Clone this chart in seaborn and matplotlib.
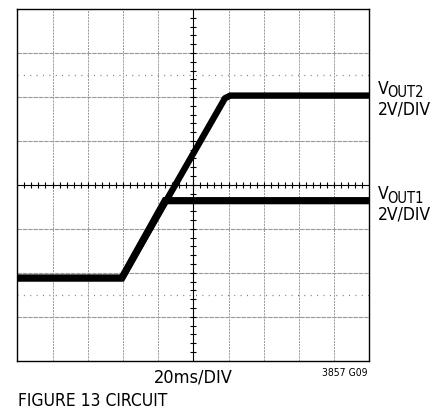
import numpy as np
import pandas as pd
import matplotlib
matplotlib.use("Agg")
import matplotlib.pyplot as plt
import seaborn as sns

# ---- data (in scope divisions: x 0..10, y 0..8) ----
vout1_t = [0.0, 2.97, 4.20, 10.0]
vout1_v = [1.88, 1.88, 3.64, 3.64]
vout2_t = [0.0, 2.97, 5.90, 6.05, 10.0]
vout2_v = [1.88, 1.88, 5.97, 6.03, 6.03]

x_label = "20ms/DIV"
fig_label = "FIGURE 13 CIRCUIT"
code_label = "3857 G09"
trace_labels = [("V", "OUT2", "2V/DIV"), ("V", "OUT1", "2V/DIV")]

sns.set_style("white")
FONT = ["DejaVu Sans"]
plt.rcParams["font.family"] = FONT

W, H = 445, 410
fig = plt.figure(figsize=(W / 100, H / 100), dpi=100)
L, R, T, B = 17.3, 369.3, 10.0, 361.7
ax = fig.add_axes([L / W, 1 - B / H, (R - L) / W, (B - T) / H])
ax.set_xlim(0, 10)
ax.set_ylim(0, 8)

# graticule
for xv in range(1, 10):
    if xv == 5:
        continue
    ax.axvline(xv, color="#8a8a8a", lw=0.6, ls=(0, (2.5, 1.2)), zorder=1)
for yv in range(1, 8):
    if yv == 4:
        continue
    ax.axhline(yv, color="#999999", lw=0.8, ls=(0, (4, 0.8)), zorder=1)
for yv in (1.5, 6.5):
    ax.axhline(yv, color="#7a7a7a", lw=0.9, ls=(0, (0.8, 4.3)), zorder=1)
ax.axvline(5, color="black", lw=0.8, zorder=2)
ax.axhline(4, color="black", lw=0.8, zorder=2)
mt_y = np.arange(0.2, 8, 0.2)
ax.plot(np.full_like(mt_y, 5), mt_y, ls="none", marker="_", ms=4, mew=0.8, color="black", zorder=2)
mt_x = np.arange(0.2, 10, 0.2)
ax.plot(mt_x, np.full_like(mt_x, 4), ls="none", marker="|", ms=4, mew=0.8, color="black", zorder=2)

# traces
df1 = pd.DataFrame({"t": vout1_t, "v": vout1_v})
df2 = pd.DataFrame({"t": vout2_t, "v": vout2_v})
sns.lineplot(data=df1, x="t", y="v", ax=ax, color="black", lw=5.2, sort=False,
             estimator=None, zorder=5, solid_joinstyle="miter")
sns.lineplot(data=df2, x="t", y="v", ax=ax, color="black", lw=4.6, sort=False,
             estimator=None, zorder=5, solid_joinstyle="round")

ax.set_xticks([])
ax.set_yticks([])
ax.set_xlabel("")
ax.set_ylabel("")
for s in ax.spines.values():
    s.set_color("black")
    s.set_linewidth(1.0)
    s.set_visible(True)

def ftext(x, y, s, **kw):
    fig.text(x / W, 1 - y / H, s, va="baseline", family=FONT,
             fontstretch="condensed", color="black", **kw)

# trace labels
ftext(377.5, 93.5, trace_labels[0][0], fontsize=12.5)
ftext(387.5, 97.0, trace_labels[0][1], fontsize=10.5)
ftext(377.5, 114.3, trace_labels[0][2], fontsize=12.5)
ftext(377.5, 199.5, trace_labels[1][0], fontsize=12.5)
ftext(387.5, 203.0, trace_labels[1][1], fontsize=10.5)
ftext(377.5, 220.0, trace_labels[1][2], fontsize=12.5)

ftext(193.5, 383.0, x_label, fontsize=13, ha="center")
ftext(18, 406.5, fig_label, fontsize=12.5)
ftext(367, 376, code_label, fontsize=7.5, ha="right")

fig.savefig("out.png", dpi=100)
